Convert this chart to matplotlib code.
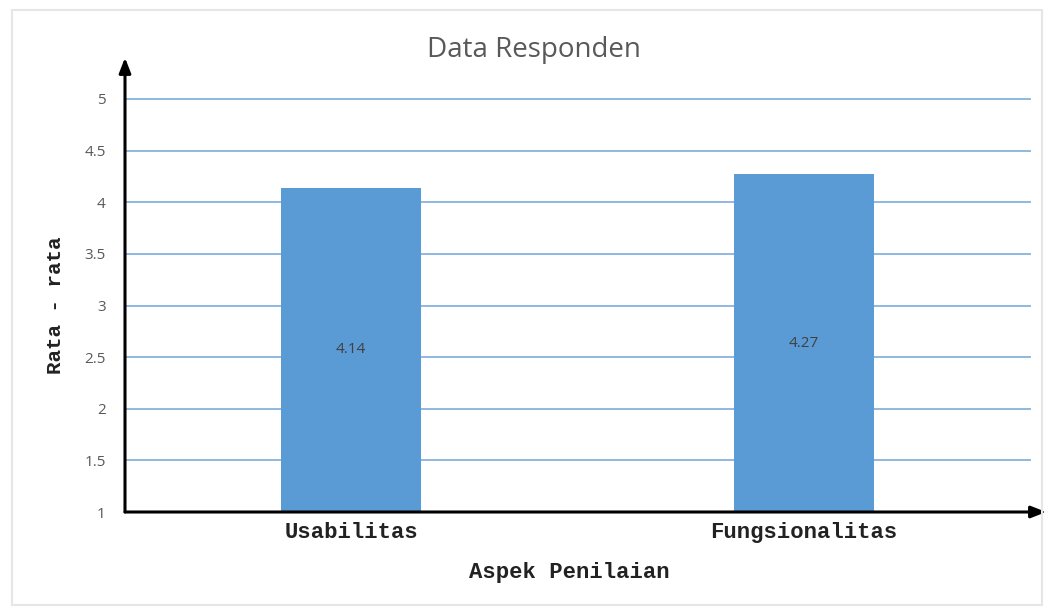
import matplotlib
matplotlib.use("Agg")
import matplotlib.pyplot as plt
from matplotlib.patches import Rectangle

categories = ["Usabilitas", "Fungsionalitas"]
values = [4.14, 4.27]
yticks = [1, 1.5, 2, 2.5, 3, 3.5, 4, 4.5, 5]
ytick_labels = ["1", "1.5", "2", "2.5", "3", "3.5", "4", "4.5", "5"]

fig = plt.figure(figsize=(10.51, 6.14), dpi=100)
fig.patch.set_facecolor("white")
fig.patches.append(Rectangle((12/1051, 1-605/614), (1042-12)/1051, (605-10)/614,
                             transform=fig.transFigure, fill=False,
                             edgecolor="#e6e6e6", linewidth=1.5, zorder=0))

ax = fig.add_axes([125/1051, 1-512/614, 905/1051, 413/614])
x = list(range(len(categories)))
bars = ax.bar(x, [v - 1 for v in values], bottom=1, width=0.31,
              color="#5B9BD5", zorder=2)
ax.set_xlim(-0.5, 1.5)
ax.set_ylim(1, 5)
ax.set_yticks(yticks)
ax.set_yticklabels(ytick_labels, fontsize=11, color="#595959", family="Open Sans")
ax.set_xticks(x)
ax.set_xticklabels(categories, fontsize=16, family="Liberation Mono",
                   fontweight="bold", color="#222222")
ax.tick_params(axis="y", length=0, pad=14)
ax.tick_params(axis="x", length=0, pad=7)
ax.yaxis.grid(True, color="#8fb8df", linewidth=1.4, zorder=1)
for gl in ax.get_ygridlines():
    gl.set_clip_on(False)
ax.set_axisbelow(True)
for s in ["top", "right", "left", "bottom"]:
    ax.spines[s].set_visible(False)

for xi, v in zip(x, values):
    ax.text(xi, 1 + (v - 1) / 2, f"{v:.2f}", ha="center", va="center",
            fontsize=11, color="#404040", family="Open Sans", zorder=3)

# arrows for axes
ax.annotate("", xy=(0, 1.10), xytext=(0, 0), xycoords="axes fraction",
            arrowprops=dict(arrowstyle="-|>,head_length=0.9,head_width=0.35",
                            color="black", lw=2.2, shrinkA=0, shrinkB=0),
            annotation_clip=False)
ax.annotate("", xy=(1.018, 0), xytext=(0, 0), xycoords="axes fraction",
            arrowprops=dict(arrowstyle="-|>,head_length=0.9,head_width=0.35",
                            color="black", lw=2.2, shrinkA=0, shrinkB=0),
            annotation_clip=False)

ax.set_ylabel("Rata - rata", fontsize=15, family="Liberation Mono",
              fontweight="bold", color="#222222")
ax.set_xlabel("Aspek Penilaian", fontsize=16, family="Liberation Mono",
              fontweight="bold", color="#222222")
ax.yaxis.set_label_coords(-(125-65)/905, 0.5)
ax.xaxis.set_label_coords((569-125)/905, -(562-512)/413)

fig.text(534/1051, 1-50/614, "Data Responden", ha="center", va="center",
         fontsize=20, color="#595959", family="Open Sans")

fig.savefig("out.png", dpi=100)
